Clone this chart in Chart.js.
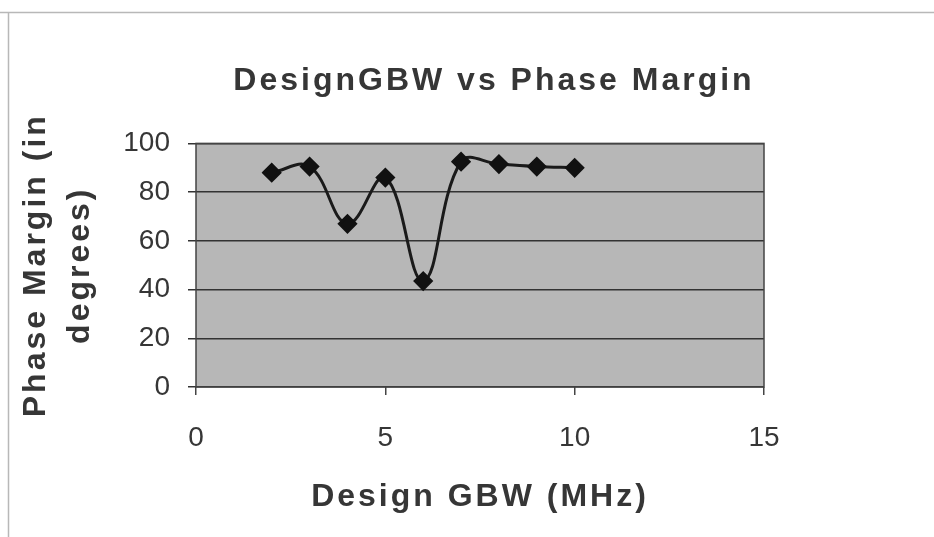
<!DOCTYPE html>
<html lang="en">
  <head>
    <meta charset="UTF-8" />
    <meta name="viewport" content="width=device-width, initial-scale=1.0" />
    <script src="https://cdn.jsdelivr.net/npm/chart.js@4.4.1/dist/chart.umd.min.js"></script>
    <title>DesignGBW vs Phase Margin</title>
    <style>
      html, body { margin: 0; padding: 0; background: #fff; }
      #wrap { width: 934px; height: 537px; }
    </style>
  </head>
  <body>
    <div id="wrap"><canvas id="myChart"></canvas></div>

    <script>
      // GBW in MHz, phase margin in degrees
      const gbw = [2, 3, 4, 5, 6, 7, 8, 9, 10];
      const phaseMargin = [88, 90.5, 67, 86, 43.5, 92.5, 91.5, 90.5, 90];
      const xTicks = [0, 5, 10, 15];
      const yTicks = [0, 20, 40, 60, 80, 100];

      const textColor = "#363636";
      const boldFont = { family: "'Liberation Sans', Arial, sans-serif", size: 32, weight: "bold" };

      // grey plot area, its outline and the outer frame
      const frame = {
        id: "frame",
        beforeDraw(chart) {
          const { ctx, chartArea: a } = chart;
          ctx.save();
          ctx.fillStyle = "#fff";
          ctx.fillRect(0, 0, chart.width, chart.height);
          ctx.strokeStyle = "#b8b8b8";
          ctx.lineWidth = 1.5;
          ctx.beginPath();
          ctx.moveTo(0, 12.5);
          ctx.lineTo(chart.width, 12.5);
          ctx.moveTo(8.5, 12.5);
          ctx.lineTo(8.5, chart.height);
          ctx.stroke();
          ctx.fillStyle = "#b7b7b7";
          ctx.fillRect(a.left, a.top, a.right - a.left, a.bottom - a.top);
          ctx.restore();
        },
        afterDraw(chart) {
          const { ctx, chartArea: a } = chart;
          ctx.save();
          ctx.strokeStyle = "#444";
          ctx.lineWidth = 1.5;
          ctx.strokeRect(a.left, a.top, a.right - a.left, a.bottom - a.top);
          ctx.restore();
        },
      };

      // the bold titles are set a little wider than the plain font
      function spaced(fn) {
        return function (...args) {
          const ctx = this.ctx;
          const prev = ctx.letterSpacing;
          ctx.letterSpacing = "3px";
          fn.apply(this, args);
          ctx.letterSpacing = prev;
        };
      }
      const wideTitles = {
        id: "wideTitles",
        afterUpdate(chart) {
          const t = chart.titleBlock;
          if (t && !t._spaced) { t.draw = spaced(t.draw); t._spaced = true; }
          Object.values(chart.scales).forEach((s) => {
            if (!s._spaced) { s.drawTitle = spaced(s.drawTitle); s._spaced = true; }
          });
        },
        afterLayout(chart) {
          // main title sits over the whole figure, not just the plot
          const t = chart.titleBlock;
          if (t) { t.left = 54; t.right = chart.width; }
        },
      };

      const ctx = document.getElementById("myChart").getContext("2d");
      const myChart = new Chart(ctx, {
        type: "line",
        data: {
          datasets: [
            {
              label: "Phase Margin",
              data: gbw.map((x, i) => ({ x, y: phaseMargin[i] })),
              borderColor: "#1a1a1a",
              borderWidth: 3,
              tension: 0.4,
              pointStyle: "rectRot",
              pointRadius: 8,
              pointBackgroundColor: "#111",
              pointBorderColor: "#111",
              fill: false,
            },
          ],
        },
        options: {
          responsive: true,
          maintainAspectRatio: false,
          animation: false,
          layout: { padding: { left: 0, right: 170, top: 0, bottom: 0 } },
          plugins: {
            legend: { display: false },
            tooltip: { enabled: false },
            title: {
              display: true,
              text: "DesignGBW vs Phase Margin",
              color: textColor,
              font: boldFont,
              padding: { top: 62, bottom: 43 },
            },
          },
          scales: {
            x: {
              type: "linear",
              min: 0,
              max: 15,
              afterBuildTicks: (s) => { s.ticks = xTicks.map((v) => ({ value: v })); },
              afterFit: (s) => { s.height = 150; },
              ticks: { color: textColor, font: { family: "'Liberation Sans', Arial, sans-serif", size: 28 }, padding: 26 },
              grid: { drawOnChartArea: false, drawTicks: true, tickLength: 8, color: "#444", lineWidth: 1.5 },
              border: { display: false },
              title: {
                display: true,
                text: "Design GBW (MHz)",
                color: textColor,
                font: boldFont,
                padding: { top: 0, bottom: 21 },
              },
            },
            y: {
              min: 0,
              max: 100,
              afterBuildTicks: (s) => { s.ticks = yTicks.map((v) => ({ value: v })); },
              afterFit: (s) => { s.width = 196; },
              ticks: { color: textColor, font: { family: "'Liberation Sans', Arial, sans-serif", size: 28 }, padding: 18 },
              grid: { color: "#333", lineWidth: 1.5, tickLength: 8 },
              border: { display: false },
              title: {
                display: true,
                text: ["Phase Margin (in", "degrees)"],
                color: textColor,
                font: { ...boldFont, lineHeight: 1.35 },
                padding: { top: 15, bottom: 0 },
              },
            },
          },
        },
        plugins: [frame, wideTitles],
      });
    </script>
  </body>
</html>
